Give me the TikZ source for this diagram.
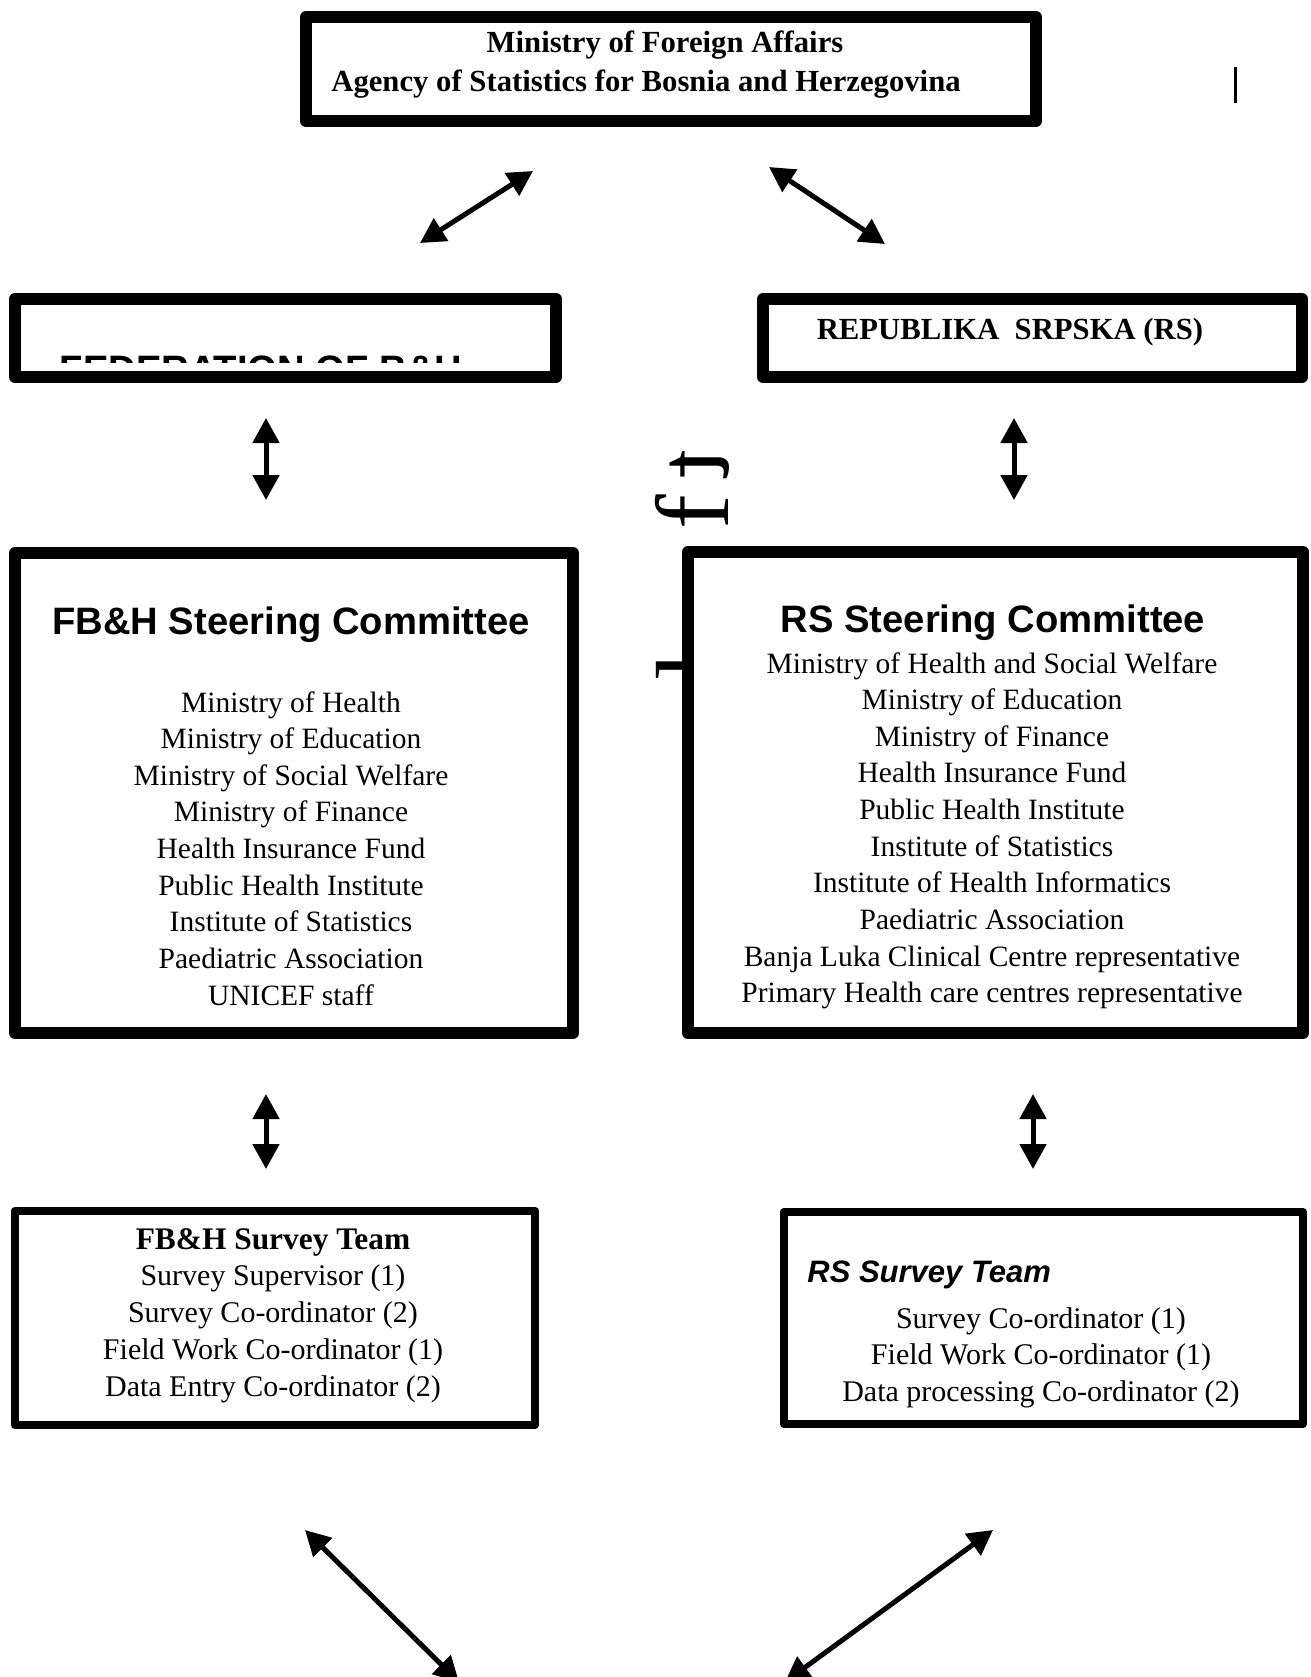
\documentclass[tikz,border=0pt]{standalone}
\usepackage{fontspec}
\setmainfont{Liberation Serif}
\newfontfamily\arialfont{Liberation Sans}
\usetikzlibrary{arrows.meta}

\newcommand\listsize{\fontsize{14.75pt}{18.33pt}\selectfont}
\newcommand\teamsize{\fontsize{15pt}{18.43pt}\selectfont}
\newcommand\topsize{\fontsize{15.35pt}{19.5pt}\selectfont}
\newcommand\headsize{\fontsize{19.1pt}{22pt}\selectfont}
\newcommand\glyphsize{\fontsize{52pt}{52pt}\selectfont}

\begin{document}
\begin{tikzpicture}[x=0.5pt,y=-0.5pt,
  bigbox/.style={draw,fill=white,line width=6pt,line join=round,inner sep=0pt},
  smallbox/.style={draw,fill=white,line width=4.25pt,line join=round,inner sep=0pt},
  glyph/.style={anchor=base west,rotate=90,inner sep=0pt},
  link/.style={{Triangle[length=12.5pt,width=13pt]}-{Triangle[length=12.5pt,width=13pt]},line width=2.5pt}]

\useasboundingbox (0,0) rectangle (1311,1677);
\clip (0,0) rectangle (1311,1677);

% TOP BOX
\node[bigbox,minimum width=365pt,minimum height=52pt] (mfa) at (671,69) {};
\node[anchor=base] (mfatitle) at (665,52) {\topsize\bfseries Ministry of Foreign Affairs};
\node[anchor=base] (agency) at (646,91)
{\topsize\bfseries Agency of Statistics for Bosnia and Herzegovina};

\draw[line width=1.5pt] (1235,67) -- (1235,103);

% FEDERATION
\node[bigbox,minimum width=270.5pt,minimum height=39pt] (fbh) at (285.5,338) {};
\begin{scope}
\clip (15,299) rectangle (556,362);
\node[anchor=base] (fbhname) at (261,382)
{\headsize\arialfont\bfseries FEDERATION OF B\&H};
\end{scope}

% REPUBLIKA SRPSKA
\node[bigbox,minimum width=269.5pt,minimum height=39pt] (rs) at (1032.5,338) {};
\node[anchor=base] (rsname) at (1010,339) {\topsize\bfseries REPUBLIKA\ \ SRPSKA (RS)};

% LOOSE LETTERS
\node[glyph] (glyphl) at (728,681) {\glyphsize l};
\node[glyph] (glyphf) at (728,530) {\glyphsize f};
\node[glyph,xscale=-1] (glypht) at (728,450) {\glyphsize t};

% FB&H STEERING COMMITTEE
\node[bigbox,minimum width=279pt,minimum height=240pt] (fbhsc) at (294,793) {};
\node[anchor=base] (fbhschead) at (291,634)
{\headsize\arialfont\bfseries FB\&H Steering Committee};
\node[anchor=base] (fbhsclist) at (291,712)
{\listsize
\begin{tabular}[t]{c}
Ministry of Health\\
Ministry of Education\\
Ministry of Social Welfare\\
Ministry of Finance\\
Health Insurance Fund\\
Public Health Institute\\
Institute of Statistics\\
Paediatric Association\\
UNICEF staff
\end{tabular}
};

% RS STEERING COMMITTEE
\node[bigbox,minimum width=307.5pt,minimum height=240.5pt] (rssc) at (995.5,792.5) {};
\node[anchor=base] (rsschead) at (993,632)
{\headsize\arialfont\bfseries RS Steering Committee};
\node[anchor=base] (rssclist) at (992,673)
{\listsize
\begin{tabular}[t]{c}
Ministry of Health and Social Welfare\\
Ministry of Education\\
Ministry of Finance\\
Health Insurance Fund\\
Public Health Institute\\
Institute of Statistics\\
Institute of Health Informatics\\
Paediatric Association\\
Banja Luka Clinical Centre representative\\
Primary Health care centres representative
\end{tabular}
};

% FB&H SURVEY TEAM
\node[smallbox,minimum width=260pt,minimum height=107pt] (fbhteam) at (275,1318) {};
\node[anchor=base] (fbhteamlist) at (273,1249)
{\teamsize
\begin{tabular}[t]{c}
{\fontsize{15.7pt}{18.43pt}\selectfont\bfseries FB\&H Survey Team}\\
Survey Supervisor (1)\\
Survey Co-ordinator (2)\\
Field Work Co-ordinator (1)\\
Data Entry Co-ordinator (2)
\end{tabular}
};

% RS SURVEY TEAM
\node[smallbox,minimum width=259.5pt,minimum height=106pt] (rsteam) at (1043.5,1318) {};
\node[anchor=base west,inner sep=0pt] (rsteamhead) at (807,1282)
{\fontsize{15.5pt}{18pt}\selectfont\arialfont\bfseries\itshape RS Survey Team};
\node[anchor=base] (rsteamlist) at (1041,1328)
{\teamsize
\begin{tabular}[t]{c}
Survey Co-ordinator (1)\\
Field Work Co-ordinator (1)\\
Data processing Co-ordinator (2)
\end{tabular}
};

% ARROW ENDS
\coordinate (mfaleft) at (533,171);
\coordinate (fbhtop) at (420,243);
\coordinate (mfaright) at (769,167);
\coordinate (rstop) at (885,244);
\coordinate (fbhbottom) at (266,418);
\coordinate (fbhscup) at (266,500);
\coordinate (rsbottom) at (1014,418);
\coordinate (rsscup) at (1014,500);
\coordinate (fbhscdown) at (266,1094);
\coordinate (fbhteamup) at (266,1169);
\coordinate (rsscdown) at (1033,1094);
\coordinate (rsteamup) at (1033,1169);
\coordinate (fbhteamdown) at (305,1530);
\coordinate (fbhout) at (459,1682);
\coordinate (rsteamdown) at (993,1530);
\coordinate (rsout) at (785,1682);

% ARROWS
\draw[link] (fbhtop) -- (mfaleft);
\draw[link] (mfaright) -- (rstop);
\draw[link] (fbhbottom) -- (fbhscup);
\draw[link] (rsbottom) -- (rsscup);
\draw[link] (fbhscdown) -- (fbhteamup);
\draw[link] (rsscdown) -- (rsteamup);
\draw[link] (fbhteamdown) -- (fbhout);
\draw[link] (rsteamdown) -- (rsout);

\end{tikzpicture}
\end{document}
